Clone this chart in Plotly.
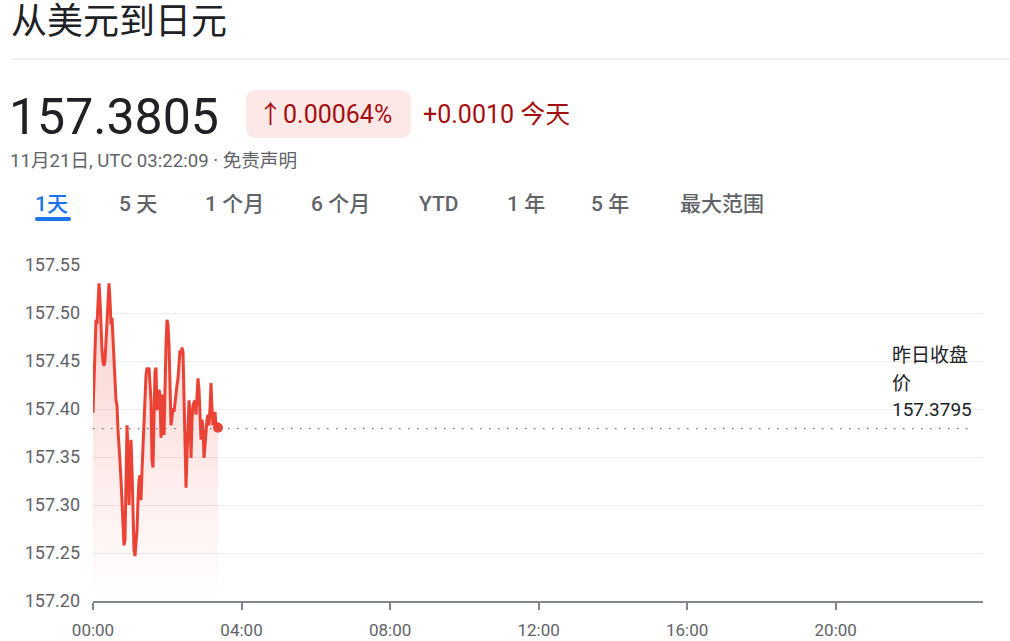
import pandas as pd
import plotly.graph_objects as go

# ---- data ----
rate = [
    157.396, 157.430, 157.482, 157.493, 157.488, 157.514, 157.531, 157.514, 157.482, 157.461,
    157.449, 157.445, 157.451, 157.472, 157.503, 157.524, 157.531, 157.514, 157.488, 157.495,
    157.467, 157.456, 157.430, 157.409, 157.404, 157.378, 157.352, 157.345, 157.326, 157.300,
    157.274, 157.258, 157.264, 157.316, 157.383, 157.357, 157.300, 157.336, 157.368, 157.336,
    157.284, 157.253, 157.247, 157.258, 157.274, 157.305, 157.326, 157.331, 157.305, 157.336,
    157.362, 157.378, 157.399, 157.435, 157.443, 157.439, 157.443, 157.430, 157.409, 157.347,
    157.339, 157.389, 157.439, 157.443, 157.399, 157.404, 157.420, 157.415, 157.370, 157.389,
    157.415, 157.373, 157.430, 157.467, 157.493, 157.488, 157.467, 157.409, 157.383, 157.391,
    157.401, 157.397, 157.409, 157.418, 157.425, 157.432, 157.451, 157.461, 157.456, 157.464,
    157.459, 157.418, 157.389, 157.318, 157.352, 157.383, 157.409, 157.394, 157.349, 157.389,
    157.404, 157.407, 157.409, 157.394, 157.415, 157.432, 157.420, 157.399, 157.368, 157.389,
    157.380, 157.349, 157.362, 157.378, 157.389, 157.394, 157.383, 157.401, 157.427, 157.399,
    157.383, 157.389, 157.397, 157.383, 157.386, 157.3805,
]
times = pd.date_range("2024-11-21 00:00", "2024-11-21 03:22", periods=len(rate))
prev_close = 157.3795

y_ticks = [157.20, 157.25, 157.30, 157.35, 157.40, 157.45, 157.50, 157.55]
x_ticks = ["2024-11-21 00:00", "2024-11-21 04:00", "2024-11-21 08:00",
           "2024-11-21 12:00", "2024-11-21 16:00", "2024-11-21 20:00"]
x_tick_text = ["00:00", "04:00", "08:00", "12:00", "16:00", "20:00"]
tabs = ["1天", "5 天", "1 个月", "6 个月", "YTD", "1 年", "5 年", "最大范围"]
tab_x = [35, 119, 205, 311, 419, 507, 591, 680]

title = "从美元到日元"
price = "157.3805"
pct = "↑0.00064%"
chg = "+0.0010 今天"
sub = "11月21日, UTC 03:22:09 · 免责声明"
prev_label = ["昨日收盘", "价", "157.3795"]

# ---- layout geometry ----
W, H = 1010, 641
L, R, T, B = 93, 983, 265, 601
FONT = "Roboto, 'Noto Sans CJK SC', sans-serif"
RED = "#ea4335"


def px(x):
    return (x - L) / (R - L)


def py(y):
    return (B - y) / (B - T)


def rounded_rect(x0, y0, x1, y1, r):
    # pixel box -> paper-coordinate SVG path with rounded corners
    def P(x, y):
        return f"{px(x):.5f},{py(y):.5f}"
    return (f"M {P(x0 + r, y0)} L {P(x1 - r, y0)} Q {P(x1, y0)} {P(x1, y0 + r)} "
            f"L {P(x1, y1 - r)} Q {P(x1, y1)} {P(x1 - r, y1)} L {P(x0 + r, y1)} "
            f"Q {P(x0, y1)} {P(x0, y1 - r)} L {P(x0, y0 + r)} Q {P(x0, y0)} {P(x0 + r, y0)} Z")


fig = go.Figure()

# baseline for the gradient fill
fig.add_trace(go.Scatter(x=times, y=[y_ticks[0]] * len(rate), mode="lines",
                         line=dict(width=0), hoverinfo="skip", showlegend=False))
fig.add_trace(go.Scatter(
    x=times, y=rate, mode="lines", line=dict(color=RED, width=3),
    fill="tonexty",
    fillgradient=dict(type="vertical", start=157.20, stop=157.53,
                      colorscale=[[0, "rgba(234,67,53,0.0)"], [1, "rgba(234,67,53,0.25)"]]),
    showlegend=False))
fig.add_trace(go.Scatter(x=[times[-1]], y=[rate[-1]], mode="markers",
                         marker=dict(color=RED, size=10), showlegend=False))

# previous close dotted line
fig.add_shape(type="line", xref="x", yref="y", x0="2024-11-21 00:00", x1="2024-11-21 23:45",
              y0=prev_close, y1=prev_close, line=dict(color="#70757a", width=1.3, dash="1.5px,7.5px"))

ann = []


def A(x, y, text, size, color, **kw):
    d = dict(x=px(x), y=py(y), xref="paper", yref="paper", xanchor="left", yanchor="middle",
             text=text, showarrow=False, font=dict(size=size, color=color, family=FONT))
    d.update(kw)
    ann.append(d)


for line_txt, ly in zip(prev_label, [355, 383, 409]):
    A(890, ly, line_txt, 19, "#202124")
A(9, 22, title, 36, "#202124")
A(7, 117, price, 50, "#202124")
A(256, 114, pct, 25, "#a50e0e")
A(421, 114, chg, 25, "#a50e0e")
A(8, 161, sub, 18.6, "#5f6368")
for i, (t, tx) in enumerate(zip(tabs, tab_x)):
    ann.append(dict(x=px(tx - 2), y=py(204), xref="paper", yref="paper", xanchor="left",
                    yanchor="middle", text=t, showarrow=False,
                    font=dict(size=21, color="#1a73e8" if i == 0 else "#5f6368", family=FONT, weight=500)))

shapes = [
    dict(type="line", xref="paper", yref="paper", x0=px(12), x1=px(1010), y0=py(59), y1=py(59),
         line=dict(color="#e3e3e3", width=1)),
    dict(type="path", xref="paper", yref="paper", path=rounded_rect(246, 90, 411, 138, 11),
         fillcolor="#fce8e6", line=dict(width=0), layer="below"),
    dict(type="path", xref="paper", yref="paper", path=rounded_rect(35, 217, 71, 221, 2),
         fillcolor="#1a73e8", line=dict(width=0)),
]
for s in shapes:
    fig.add_shape(**s)

fig.update_layout(
    width=W, height=H, margin=dict(l=L, r=W - R, t=T, b=H - B),
    paper_bgcolor="white", plot_bgcolor="white",
    font=dict(family=FONT, color="#5f6368"),
    annotations=ann, showlegend=False,
    xaxis=dict(range=["2024-11-21 00:00", "2024-11-21 23:58"], tickvals=x_ticks, ticktext=x_tick_text,
               showgrid=False, showline=True, linecolor="#80868b", linewidth=2,
               ticks="outside", ticklen=7, tickwidth=2, tickcolor="#80868b", automargin=False,
               tickfont=dict(size=17, color="#5f6368"), zeroline=False, ticklabelstandoff=6),
    yaxis=dict(range=[157.20, 157.55], tickvals=y_ticks, tickformat=".2f", automargin=False,
               showgrid=True, gridcolor="#ececec", gridwidth=1, zeroline=False,
               tickfont=dict(size=18, color="#5f6368"), ticklabelstandoff=12),
)

fig.write_html("out.html", config={"displayModeBar": False},
               post_script="document.body.style.margin='0px';")
